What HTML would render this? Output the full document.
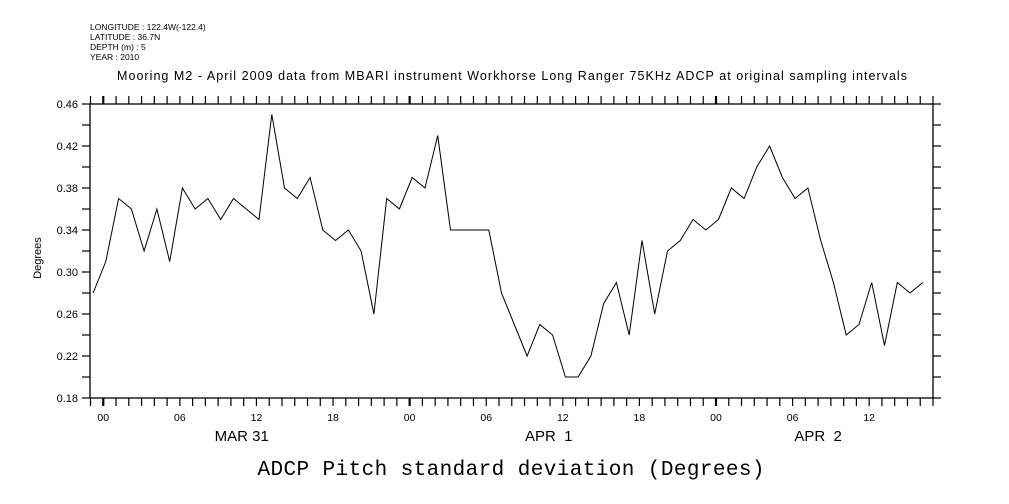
<!DOCTYPE html>
<html><head><meta charset="utf-8"><style>
body{margin:0;background:#fff}
svg{display:block}
text{font-family:"Liberation Sans",sans-serif;fill:#000}
</style></head><body>
<svg id="chart" width="1009" height="504" viewBox="0 0 1009 504" xmlns="http://www.w3.org/2000/svg">
<rect width="1009" height="504" fill="#fff"/>
<g font-size="8.5">
<text x="90" y="30">LONGITUDE : 122.4W(-122.4)</text>
<text x="90" y="40">LATITUDE : 36.7N</text>
<text x="90" y="50">DEPTH (m) : 5</text>
<text x="90" y="60">YEAR : 2010</text>
</g>
<text x="512" y="80" font-size="12.5" text-anchor="middle" textLength="790">Mooring M2 - April 2009 data from MBARI instrument Workhorse Long Ranger 75KHz ADCP at original sampling intervals</text>
<text transform="translate(41,258) rotate(-90)" font-size="11" text-anchor="middle">Degrees</text>
<text x="511" y="475" font-size="21" text-anchor="middle" style="font-family:'Liberation Mono',monospace" textLength="507">ADCP Pitch standard deviation (Degrees)</text>
<g id="axes"></g>
<g id="marks"></g>
</svg>
<script>
const hours = [-1,0,1,2,3,4,5,6,7,8,9,10,11,12,13,14,15,16,17,18,19,20,21,22,23,24,25,26,27,28,29,30,31,32,33,34,35,36,37,38,39,40,41,42,43,44,45,46,47,48,49,50,51,52,53,54,55,56,57,58,59,60,61,62,63,64];
const values = [0.28,0.31,0.37,0.36,0.32,0.36,0.31,0.38,0.36,0.37,0.35,0.37,0.36,0.35,0.45,0.38,0.37,0.39,0.34,0.33,0.34,0.32,0.26,0.37,0.36,0.39,0.38,0.43,0.34,0.34,0.34,0.34,0.28,0.25,0.22,0.25,0.24,0.20,0.20,0.22,0.27,0.29,0.24,0.33,0.26,0.32,0.33,0.35,0.34,0.35,0.38,0.37,0.40,0.42,0.39,0.37,0.38,0.33,0.29,0.24,0.25,0.29,0.23,0.29,0.28,0.29];
const yTickLabels = ["0.18","0.22","0.26","0.30","0.34","0.38","0.42","0.46"];
const xTickLabels = ["00","06","12","18","00","06","12","18","00","06","12"];
const xTickHours = [0,6,12,18,24,30,36,42,48,54,60];
const dateLabels = ["MAR 31","APR  1","APR  2"];
const dateHours = [10.85,34.9,56.0];
const sampleOffset = 0.2;

const L=90,R=933,T=104,B=398;
const x0=-1.04,x1=65.0,y0=0.18,y1=0.46;
const xs=h=>L+(h-x0)/(x1-x0)*(R-L);
const ys=v=>B-(v-y0)/(y1-y0)*(B-T);
const NS="http://www.w3.org/2000/svg";
const axes=document.getElementById('axes'), marks=document.getElementById('marks');
function mk(tag,attrs,parent){const e=document.createElementNS(NS,tag);for(const k in attrs)e.setAttribute(k,attrs[k]);parent.appendChild(e);return e;}

const frame=mk('rect',{x:L,y:T,width:R-L,height:B-T,fill:'none',stroke:'#000','stroke-width':1.3},axes);



for(let i=0;i<=14;i++){
  const v=y0+i*0.02, y=ys(v);
  const t1=mk('line',{x1:L-8,x2:L,y1:y,y2:y,stroke:'#000','stroke-width':1.2},axes);
  
  
  const t2=mk('line',{x1:R,x2:R+8,y1:y,y2:y,stroke:'#000','stroke-width':1.2},axes);
  
  
}
yTickLabels.forEach(s=>{
  const y=ys(parseFloat(s));
  const t=mk('text',{x:L-12,y:y+4,'font-size':11,'text-anchor':'end'},axes);
  t.textContent=s;
  
  
});
for(let h=-1;h<=65;h++){
  const x=xs(h); if(x<L-0.5||x>R+0.5)continue;
  const w=(h%24===0)?2.2:1.2;
  const a=mk('line',{x1:x,x2:x,y1:T-8,y2:T,stroke:'#000','stroke-width':w},axes);
  
  
  const b=mk('line',{x1:x,x2:x,y1:B,y2:B+8,stroke:'#000','stroke-width':w},axes);
  
  
}
xTickLabels.forEach((s,i)=>{
  const t=mk('text',{x:xs(xTickHours[i]),y:421,'font-size':10.5,'text-anchor':'middle'},axes);
  t.textContent=s;
  
  
});
dateLabels.forEach((s,i)=>{
  const t=mk('text',{x:xs(dateHours[i]),y:441,'font-size':15,'text-anchor':'middle'},axes);
  t.setAttribute('style','white-space:pre');
  t.textContent=s;
  
  
});
const pts=hours.map((h,i)=>xs(h+sampleOffset).toFixed(1)+','+ys(values[i]).toFixed(1)).join(' ');
const line=mk('polyline',{points:pts,fill:'none',stroke:'#000','stroke-width':1},marks);


</script>
</body></html>
